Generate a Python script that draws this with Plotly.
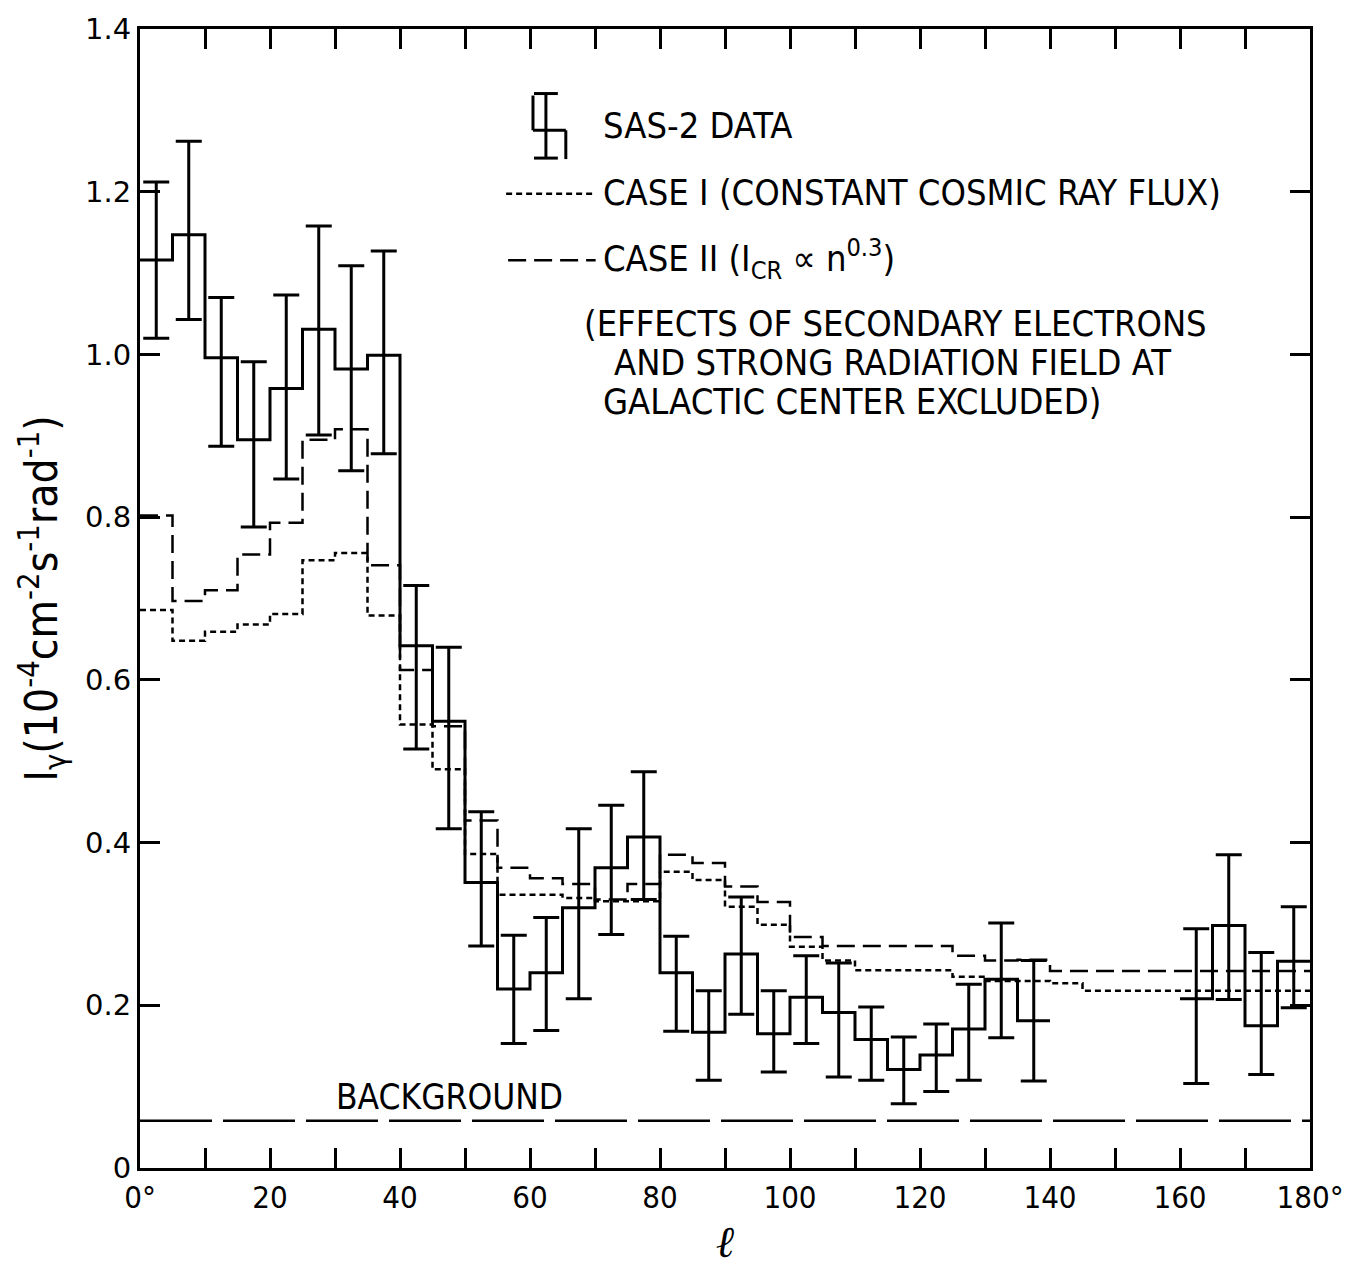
import plotly.graph_objects as go

# ---------------- data ----------------
BIN = 5  # bin width in degrees of galactic longitude

# SAS-2 data, first block (0-140 deg), left bin edges
SAS_EDGE_A = [0, 5, 10, 15, 20, 25, 30, 35, 40, 45, 50, 55, 60, 65,
              70, 75, 80, 85, 90, 95, 100, 105, 110, 115, 120, 125, 130, 135]
SAS_VAL_A = [1.116, 1.147, 0.996, 0.895, 0.958, 1.031, 0.982, 0.999, 0.642, 0.549,
             0.351, 0.220, 0.240, 0.320, 0.369, 0.407, 0.240, 0.167, 0.263, 0.165,
             0.210, 0.191, 0.158, 0.121, 0.139, 0.171, 0.232, 0.181]
SAS_HI_A = [1.212, 1.262, 1.070, 0.991, 1.073, 1.158, 1.109, 1.127, 0.716, 0.640,
            0.438, 0.286, 0.308, 0.417, 0.446, 0.487, 0.285, 0.218, 0.333, 0.218,
            0.261, 0.252, 0.198, 0.161, 0.177, 0.226, 0.301, 0.255]
SAS_LO_A = [1.020, 1.043, 0.887, 0.788, 0.847, 0.901, 0.857, 0.878, 0.515, 0.417,
            0.273, 0.153, 0.169, 0.208, 0.287, 0.330, 0.168, 0.108, 0.189, 0.118,
            0.153, 0.112, 0.108, 0.079, 0.094, 0.108, 0.160, 0.107]

# SAS-2 data, second block (160-180 deg)
SAS_EDGE_B = [160, 165, 170, 175]
SAS_VAL_B = [0.208, 0.298, 0.175, 0.254]
SAS_HI_B = [0.294, 0.385, 0.265, 0.321]
SAS_LO_B = [0.104, 0.207, 0.115, 0.197]

# model curves, 5-degree bins from 0 to 180
MODEL_EDGE = [0, 5, 10, 15, 20, 25, 30, 35, 40, 45, 50, 55, 60, 65, 70, 75, 80, 85,
              90, 95, 100, 105, 110, 115, 120, 125, 130, 135, 140, 145, 150, 155,
              160, 165, 170, 175]
CASE_I = [0.686, 0.648, 0.659, 0.668, 0.681, 0.747, 0.756, 0.679, 0.545, 0.490,
          0.386, 0.336, 0.336, 0.332, 0.328, 0.328, 0.364, 0.354, 0.321, 0.299,
          0.272, 0.255, 0.243, 0.243, 0.243, 0.235, 0.230, 0.230, 0.227, 0.218,
          0.218, 0.218, 0.218, 0.218, 0.218, 0.218]
CASE_II = [0.802, 0.697, 0.710, 0.754, 0.793, 0.895, 0.908, 0.741, 0.612, 0.543,
           0.427, 0.369, 0.356, 0.349, 0.330, 0.349, 0.385, 0.375, 0.346, 0.327,
           0.284, 0.273, 0.273, 0.273, 0.273, 0.261, 0.255, 0.256, 0.242, 0.242,
           0.242, 0.242, 0.242, 0.242, 0.242, 0.242]

BACKGROUND = 0.058
X_RANGE = [0, 180]
Y_RANGE = [0, 1.4]

X_TICKS = [0, 10, 20, 30, 40, 50, 60, 70, 80, 90, 100, 110, 120, 130, 140, 150, 160, 170, 180]
X_TICKTEXT = ["0°", "", "20", "", "40", "", "60", "", "80", "", "100", "", "120", "",
              "140", "", "160", "", "180°"]
Y_TICKS = [0, 0.2, 0.4, 0.6, 0.8, 1.0, 1.2, 1.4]
Y_TICKTEXT = ["0", "0.2", "0.4", "0.6", "0.8", "1.0", "1.2", "1.4"]

NARROW = "Liberation Sans Narrow, DejaVu Sans Condensed, Arial Narrow, Roboto Condensed, sans-serif"


def step_xy(edges, vals):
    xs = list(edges) + [edges[-1] + BIN]
    ys = list(vals) + [vals[-1]]
    return xs, ys


fig = go.Figure()

# background
fig.add_trace(go.Scatter(x=X_RANGE, y=[BACKGROUND, BACKGROUND], mode="lines",
                         line=dict(color="black", width=2.5, dash="72px,11px"),
                         showlegend=False, hoverinfo="skip"))

# case I (dotted)
xs, ys = step_xy(MODEL_EDGE, CASE_I)
fig.add_trace(go.Scatter(x=xs, y=ys, mode="lines", line_shape="hv",
                         line=dict(color="black", width=2.5, dash="6px,4px"),
                         showlegend=False))
# case II (dashed)
xs, ys = step_xy(MODEL_EDGE, CASE_II)
fig.add_trace(go.Scatter(x=xs, y=ys, mode="lines", line_shape="hv",
                         line=dict(color="black", width=2.5, dash="18px,8px"),
                         showlegend=False))

# SAS-2 histogram + error bars
for edges, vals, hi, lo in [(SAS_EDGE_A, SAS_VAL_A, SAS_HI_A, SAS_LO_A),
                            (SAS_EDGE_B, SAS_VAL_B, SAS_HI_B, SAS_LO_B)]:
    xs, ys = step_xy(edges, vals)
    fig.add_trace(go.Scatter(x=xs, y=ys, mode="lines", line_shape="hv",
                             line=dict(color="black", width=3), showlegend=False))
    centers = [e + BIN / 2 for e in edges]
    fig.add_trace(go.Scatter(
        x=centers, y=vals, mode="markers",
        marker=dict(size=1, color="rgba(0,0,0,0)"),
        error_y=dict(type="data", symmetric=False,
                     array=[h - v for h, v in zip(hi, vals)],
                     arrayminus=[v - l for l, v in zip(lo, vals)],
                     color="black", thickness=3, width=13),
        showlegend=False))

# ---------------- layout geometry ----------------
W, H = 1356, 1270
L, T, R, B = 140, 25, 40, 98
PW, PH = W - L - R, H - T - B


# pixel (figure frame) -> paper coordinates
def px(xp):
    return (xp - L) / PW


def py(yp):
    return (H - B - yp) / PH


shapes = []
# SAS-2 glyph
glyph = [((535, 92), (535, 127)), ((535, 127), (568, 127)), ((568, 127), (568, 156)),
         ((548, 90), (548, 155)), ((536, 90), (560, 90)), ((536, 155), (560, 155))]
for (x0, y0), (x1, y1) in glyph:
    shapes.append(dict(type="line", xref="paper", yref="paper",
                       x0=px(x0), y0=py(y0), x1=px(x1), y1=py(y1),
                       line=dict(color="black", width=3)))
shapes.append(dict(type="line", xref="paper", yref="paper",
                   x0=px(508), y0=py(191), x1=px(598), y1=py(191),
                   line=dict(color="black", width=2.5, dash="6px,4px")))
shapes.append(dict(type="line", xref="paper", yref="paper",
                   x0=px(510), y0=py(258), x1=px(598), y1=py(258),
                   line=dict(color="black", width=2.5, dash="18px,8px")))

legend_text = [
    (603, 122, "SAS-2 DATA", 36),
    (603, 190, "CASE I (CONSTANT COSMIC RAY FLUX)", 36),
    (603, 257, "CASE II (I<sub>CR</sub> ∝ n<sup>0.3</sup>)", 36),
    (584, 322, "(EFFECTS OF SECONDARY ELECTRONS", 36),
    (614, 361, "AND STRONG RADIATION FIELD AT", 36),
    (603, 400, "GALACTIC CENTER EXCLUDED)", 36),
    (335, 1100, "BACKGROUND", 35),
]
annotations = []
for x0, y0, t, s in legend_text:
    annotations.append(dict(x=px(x0), y=py(y0), xref="paper", yref="paper",
                            text=t, showarrow=False, xanchor="left", yanchor="middle",
                            font=dict(family=NARROW, size=s, color="black")))

fig.update_layout(
    width=W, height=H,
    margin=dict(l=L, r=R, t=T, b=B),
    paper_bgcolor="white", plot_bgcolor="white",
    shapes=shapes, annotations=annotations,
    showlegend=False,
    xaxis=dict(range=X_RANGE, tickvals=X_TICKS, ticktext=X_TICKTEXT,
               ticks="inside", ticklen=20, tickwidth=2.5, tickcolor="black",
               showline=True, linewidth=3, linecolor="black", mirror="ticks",
               showgrid=False, zeroline=False,
               tickfont=dict(family=NARROW, size=31, color="black"),
               title=dict(text="<i>ℓ</i>", font=dict(family="DejaVu Serif", size=44, color="black"),
                          standoff=12)),
    yaxis=dict(range=Y_RANGE, tickvals=Y_TICKS, ticktext=Y_TICKTEXT,
               ticks="inside", ticklen=20, tickwidth=2.5, tickcolor="black",
               showline=True, linewidth=3, linecolor="black", mirror="ticks",
               showgrid=False, zeroline=False,
               tickfont=dict(family="DejaVu Sans", size=29, color="black"),
               title=dict(text="I<sub>γ</sub>(10<sup>-4</sup>cm<sup>-2</sup>s<sup>-1</sup>rad<sup>-1</sup>)",
                          font=dict(family=NARROW, size=44, color="black"),
                          standoff=14)),
)

# remove the browser's default page margin so the figure fills the window exactly
fig.write_html("out.html",
               config={"displayModeBar": False},
               post_script="document.body.style.margin='0';document.body.style.overflow='hidden';")
